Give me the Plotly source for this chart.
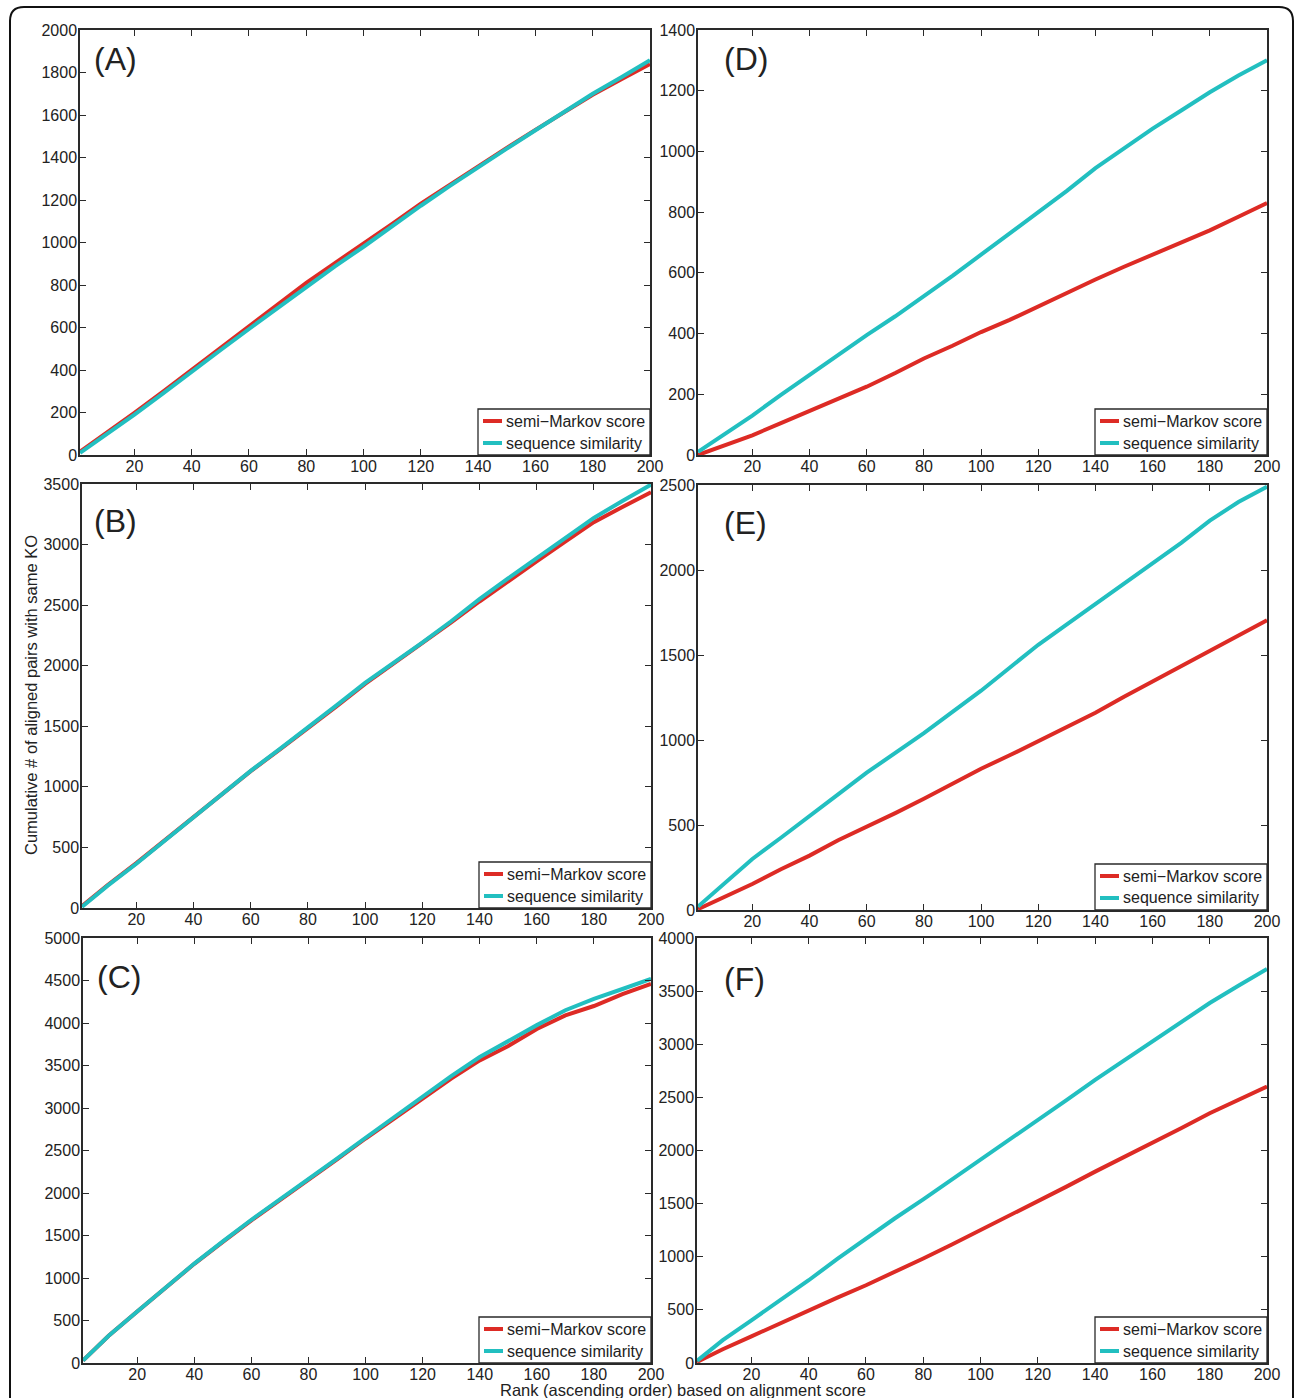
import plotly.graph_objects as go

W, H = 1295, 1398

ranks = [1, 10, 20, 30, 40, 50, 60, 70, 80, 90, 100, 110, 120, 130, 140, 150, 160, 170, 180, 190, 200]

a_semi = [15, 100, 198, 298, 402, 503, 605, 708, 810, 903, 993, 1088, 1183, 1272, 1360, 1445, 1530, 1615, 1695, 1768, 1840]
a_seq = [10, 93, 190, 290, 393, 493, 593, 693, 793, 888, 980, 1077, 1173, 1265, 1355, 1442, 1528, 1615, 1700, 1778, 1858]

b_semi = [15, 190, 370, 560, 752, 940, 1130, 1305, 1483, 1665, 1850, 2015, 2186, 2355, 2530, 2700, 2861, 3025, 3185, 3310, 3432]
b_seq = [10, 185, 365, 555, 748, 938, 1132, 1310, 1488, 1672, 1858, 2022, 2190, 2365, 2550, 2720, 2889, 3055, 3220, 3360, 3495]

c_semi = [30, 320, 605, 890, 1167, 1425, 1678, 1915, 2150, 2395, 2641, 2880, 3113, 3345, 3560, 3730, 3930, 4090, 4200, 4340, 4460]
c_seq = [30, 320, 605, 890, 1170, 1430, 1685, 1925, 2160, 2405, 2650, 2895, 3133, 3375, 3600, 3790, 3975, 4150, 4285, 4400, 4520]

d_semi = [0, 30, 65, 105, 145, 185, 225, 270, 318, 360, 405, 445, 490, 535, 578, 620, 660, 700, 740, 785, 830]
d_seq = [10, 65, 130, 198, 265, 330, 395, 457, 522, 590, 660, 730, 800, 870, 945, 1012, 1075, 1135, 1195, 1250, 1300]

e_semi = [5, 75, 153, 240, 320, 410, 487, 570, 654, 745, 831, 910, 995, 1075, 1160, 1255, 1345, 1435, 1525, 1615, 1705]
e_seq = [20, 155, 300, 425, 550, 680, 808, 925, 1040, 1165, 1290, 1425, 1560, 1680, 1800, 1920, 2039, 2160, 2290, 2400, 2490]

f_semi = [10, 130, 251, 375, 497, 615, 732, 855, 984, 1115, 1251, 1385, 1518, 1660, 1801, 1935, 2068, 2210, 2351, 2475, 2602]
f_seq = [20, 215, 402, 590, 779, 980, 1175, 1360, 1540, 1725, 1911, 2100, 2288, 2475, 2665, 2845, 3026, 3210, 3388, 3550, 3708]

panel_labels = ["(A)", "(B)", "(C)", "(D)", "(E)", "(F)"]
series_names = ["semi−Markov score", "sequence similarity"]
x_ticks = [20, 40, 60, 80, 100, 120, 140, 160, 180, 200]
y_max = [2000, 3500, 5000, 1400, 2500, 4000]
y_step = [200, 500, 500, 200, 500, 500]

semi_all = [a_semi, b_semi, c_semi, d_semi, e_semi, f_semi]
seq_all = [a_seq, b_seq, c_seq, d_seq, e_seq, f_seq]

# pixel boxes (left, right, top, bottom)
boxes = [
    (80, 650, 30, 455),
    (82, 651, 484, 908),
    (83, 651, 938, 1363),
    (698, 1267, 30, 455),
    (698, 1267, 485, 910),
    (697, 1267, 938, 1363),
]
label_pos = [(92, 59), (92, 521), (95, 977), (722, 59), (722, 523), (722, 979)]

RED = "#dd2b25"
CYAN = "#22bfc0"
AXC = "#2a2a2a"
FONT = "Liberation Sans, Arial, sans-serif"
COLORS = [RED, CYAN]


def px(x):
    return x / W


def py(y):
    return 1 - y / H


fig = go.Figure()
layout = dict(
    width=W, height=H,
    margin=dict(l=0, r=0, t=0, b=0, autoexpand=False),
    paper_bgcolor="white", plot_bgcolor="white",
    font=dict(family=FONT, size=16, color="#222"),
    showlegend=False,
)
annotations = []
shapes = []

LEG_W, LEG_H = 172, 46

for i in range(6):
    n = "" if i == 0 else str(i + 1)
    xa, ya = "x" + n, "y" + n
    l, r, t, b = boxes[i]
    fig.add_trace(go.Scatter(x=ranks, y=semi_all[i], mode="lines", name=series_names[0],
                             line=dict(color=RED, width=4), xaxis=xa, yaxis=ya))
    fig.add_trace(go.Scatter(x=ranks, y=seq_all[i], mode="lines", name=series_names[1],
                             line=dict(color=CYAN, width=4), xaxis=xa, yaxis=ya))
    common = dict(showline=True, linecolor=AXC, linewidth=1.5, mirror="ticks",
                  ticks="inside", ticklen=6, tickwidth=1.2, tickcolor=AXC,
                  showgrid=False, zeroline=False,
                  tickfont=dict(family=FONT, size=16, color="#222"))
    layout["xaxis" + n] = dict(domain=[px(l), px(r)], range=[1, 200], anchor=ya,
                               tickvals=x_ticks, ticklabelstandoff=-4, **common)
    layout["yaxis" + n] = dict(domain=[py(b), py(t)], range=[0, y_max[i]], anchor=xa,
                               dtick=y_step[i], tick0=0, ticklabelstandoff=-2, **common)

    # legend box (drawn manually, MATLAB style)
    lx0, lx1 = r - LEG_W, r
    ly0, ly1 = b - LEG_H, b
    shapes.append(dict(type="rect", xref="paper", yref="paper",
                       x0=px(lx0), x1=px(lx1), y0=py(ly1), y1=py(ly0),
                       fillcolor="white", line=dict(color=AXC, width=1.3), layer="above"))
    for k in range(2):
        yy = ly0 + 12 + k * 22
        shapes.append(dict(type="line", xref="paper", yref="paper",
                           x0=px(lx0 + 5), x1=px(lx0 + 24), y0=py(yy), y1=py(yy),
                           line=dict(color=COLORS[k], width=4), layer="above"))
        annotations.append(dict(text=series_names[k], x=px(lx0 + 26), y=py(yy),
                                xref="paper", yref="paper", xanchor="left", yanchor="middle",
                                showarrow=False,
                                font=dict(family=FONT, size=16, color="#222")))

    lx, lyy = label_pos[i]
    annotations.append(dict(text=panel_labels[i], x=px(lx), y=py(lyy), xref="paper", yref="paper",
                            xanchor="left", yanchor="middle", showarrow=False,
                            font=dict(family=FONT, size=32, color="#222")))

annotations.append(dict(text="Cumulative # of aligned pairs with same KO", x=px(31), y=py(695),
                        xref="paper", yref="paper", textangle=-90, showarrow=False,
                        xanchor="center", yanchor="middle",
                        font=dict(family=FONT, size=16.5, color="#222")))
annotations.append(dict(text="Rank (ascending order) based on alignment score", x=px(683), y=py(1390),
                        xref="paper", yref="paper", showarrow=False,
                        xanchor="center", yanchor="middle",
                        font=dict(family=FONT, size=16.5, color="#222")))
layout["annotations"] = annotations

# rounded outer frame (bottom edge open, beyond the picture)
L, R, T, B = 10, 1293, 7, 1398
rad = 14
path = (f"M {px(L)},{py(B)} L {px(L)},{py(T + rad)} Q {px(L)},{py(T)} {px(L + rad)},{py(T)} "
        f"L {px(R - rad)},{py(T)} Q {px(R)},{py(T)} {px(R)},{py(T + rad)} L {px(R)},{py(B)}")
shapes.append(dict(type="path", path=path, xref="paper", yref="paper",
                   line=dict(color="#111", width=2)))
layout["shapes"] = shapes

fig.update_layout(**layout)
fig.write_html("out.html", config={"displayModeBar": False},
               post_script="document.body.style.margin='0';document.body.style.overflow='hidden';")
